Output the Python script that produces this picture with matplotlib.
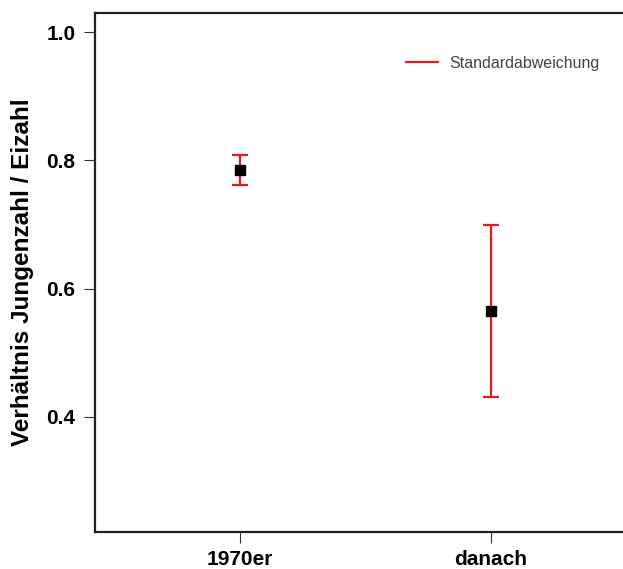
import matplotlib
matplotlib.use("Agg")
import matplotlib.pyplot as plt
from matplotlib.lines import Line2D

plt.rcParams["font.family"] = ["Liberation Sans", "DejaVu Sans"]

# Verhältnis Jungenzahl / Eizahl per Zeitraum
groups = ["1970er", "danach"]
means = [0.785, 0.565]
sds = [0.024, 0.134]
y_ticks = [0.4, 0.6, 0.8, 1.0]

W, H = 623, 569
fig = plt.figure(figsize=(W / 100, H / 100), dpi=100)
# axes box runs past the right edge of the figure
left, right, top, bottom = 95, 636, 13, 532
ax = fig.add_axes([left / W, 1 - bottom / H, (right - left) / W, (bottom - top) / H])

x = list(range(1, len(groups) + 1))
ax.errorbar(x, means, yerr=sds, fmt="none", ecolor="#e8191e", elinewidth=1.6,
            capsize=6, capthick=1.6, zorder=2)
ax.plot(x, means, "s", color="black", markersize=7.5, zorder=3)

ax.set_xlim(0.42, 2.58)
ax.set_ylim(0.22, 1.03)
ax.set_xticks(x)
ax.set_xticklabels(groups, fontsize=15, fontweight="bold")
ax.set_yticks(y_ticks)
ax.set_yticklabels([f"{v:.1f}" for v in y_ticks], fontsize=15, fontweight="bold")
ax.tick_params(axis="both", direction="out", length=8, width=0.8, color="#333333", pad=6)
ax.tick_params(axis="x", pad=5)
for s in ax.spines.values():
    s.set_linewidth(1.6)
    s.set_color("#222222")

ax.set_ylabel("Verhältnis Jungenzahl / Eizahl", fontsize=17.5, fontweight="bold", labelpad=9)

handle = Line2D([], [], color="#e8191e", linewidth=1.6)
ax.legend([handle], ["Standardabweichung"], loc="upper left", bbox_to_anchor=(0.548, 0.945),
          frameon=False, fontsize=11.5, handlelength=2.0, handletextpad=0.7,
          labelcolor="#444444")

fig.savefig("out.png", dpi=100)
